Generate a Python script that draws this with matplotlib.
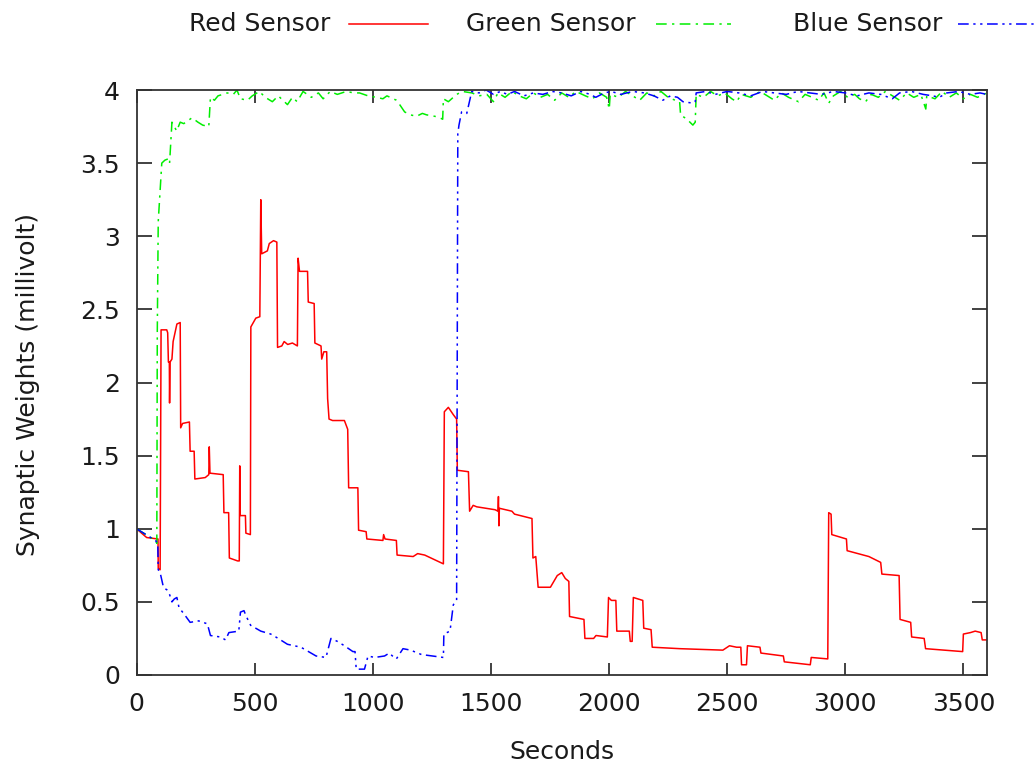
import matplotlib
matplotlib.use("Agg")
import matplotlib.pyplot as plt
from matplotlib.lines import Line2D

# ---------------- data ----------------
red_t = [0, 43, 91, 92, 100, 104, 128, 132, 135, 139, 140, 142, 150, 155, 171, 185,
         187, 195, 224, 227, 244, 247, 291, 306, 308, 311, 367, 370, 390, 393, 428, 435,
         437, 439, 461, 463, 482, 484, 505, 522, 526, 530, 554, 562, 580, 594, 597, 615,
         625, 640, 660, 681, 684, 690, 724, 727, 752, 755, 781, 784, 793, 805, 809, 815,
         830, 880, 894, 898, 937, 940, 972, 975, 1043, 1046, 1052, 1100, 1103, 1171, 1190, 1220,
         1299, 1303, 1320, 1341, 1355, 1358, 1405, 1410, 1425, 1440, 1518, 1530, 1532, 1534, 1536, 1589,
         1600, 1674, 1678, 1690, 1700, 1752, 1781, 1800, 1815, 1830, 1833, 1894, 1898, 1935, 1945, 1993,
         1998, 2010, 2029, 2033, 2086, 2090, 2098, 2103, 2143, 2147, 2178, 2183, 2300, 2482, 2510, 2540,
         2558, 2561, 2582, 2586, 2639, 2643, 2738, 2742, 2852, 2856, 2926, 2930, 2940, 2943, 3005, 3008,
         3100, 3150, 3155, 3228, 3232, 3277, 3281, 3334, 3340, 3497, 3500, 3530, 3550, 3575, 3580, 3600]
red_v = [1.00, 0.94, 0.93, 0.73, 0.72, 2.36, 2.36, 2.34, 2.14, 2.14, 1.86, 2.14, 2.16, 2.28, 2.40, 2.41,
         1.69, 1.72, 1.73, 1.53, 1.53, 1.34, 1.35, 1.37, 1.56, 1.38, 1.37, 1.11, 1.11, 0.80, 0.78, 0.78,
         1.43, 1.09, 1.09, 0.97, 0.96, 2.38, 2.44, 2.45, 3.25, 2.88, 2.90, 2.95, 2.97, 2.96, 2.24, 2.25,
         2.28, 2.26, 2.27, 2.25, 2.85, 2.76, 2.76, 2.55, 2.54, 2.27, 2.25, 2.16, 2.21, 2.21, 1.89, 1.75,
         1.74, 1.74, 1.68, 1.28, 1.28, 0.99, 0.98, 0.93, 0.92, 0.96, 0.93, 0.92, 0.82, 0.81, 0.83, 0.82,
         0.76, 1.80, 1.83, 1.78, 1.75, 1.40, 1.39, 1.12, 1.16, 1.15, 1.13, 1.12, 1.22, 1.02, 1.14, 1.12,
         1.10, 1.07, 0.80, 0.81, 0.60, 0.60, 0.68, 0.70, 0.66, 0.64, 0.40, 0.38, 0.25, 0.25, 0.27, 0.26,
         0.53, 0.51, 0.51, 0.30, 0.30, 0.23, 0.23, 0.53, 0.51, 0.32, 0.31, 0.19, 0.18, 0.17, 0.20, 0.19,
         0.19, 0.07, 0.07, 0.20, 0.19, 0.15, 0.13, 0.09, 0.07, 0.12, 0.11, 1.11, 1.10, 0.96, 0.93, 0.85,
         0.81, 0.77, 0.69, 0.68, 0.38, 0.36, 0.26, 0.25, 0.18, 0.16, 0.28, 0.29, 0.30, 0.29, 0.24, 0.24]

green_t = [0, 80, 86, 88, 92, 107, 120, 135, 140, 150, 160, 170, 185, 200, 235, 260,
           280, 306, 313, 330, 345, 384, 410, 425, 440, 470, 490, 520, 545, 575, 600, 639,
           660, 680, 705, 740, 770, 790, 820, 850, 888, 920, 944, 980, 1015, 1043, 1060, 1100,
           1114, 1135, 1160, 1185, 1210, 1228, 1263, 1284, 1296, 1299, 1320, 1355, 1380, 1420,
           1450, 1483, 1511, 1530, 1560, 1590, 1620, 1650, 1680, 1710, 1740, 1770, 1800, 1830,
           1860, 1900, 1930, 1960, 1990, 2001, 2005, 2040, 2070, 2100, 2130, 2160, 2190, 2220,
           2250, 2280, 2299, 2303, 2330, 2355, 2365, 2369, 2400, 2430, 2460, 2490, 2520, 2540,
           2560, 2600, 2640, 2670, 2700, 2730, 2760, 2802, 2830, 2860, 2887, 2910, 2930, 2950,
           2980, 3010, 3040, 3060, 3086, 3110, 3140, 3170, 3200, 3230, 3260, 3290, 3320, 3341,
           3345, 3380, 3410, 3440, 3470, 3500, 3530, 3560, 3600]
green_v = [1.00, 0.92, 0.90, 2.35, 3.10, 3.50, 3.52, 3.53, 3.50, 3.78, 3.75, 3.72, 3.78, 3.77, 3.81, 3.78,
           3.76, 3.75, 3.95, 3.93, 3.96, 3.98, 3.97, 4.00, 3.94, 3.93, 3.96, 3.99, 3.95, 3.92, 3.96, 3.90,
           3.95, 3.92, 3.99, 3.95, 3.98, 3.94, 3.99, 3.97, 3.99, 3.98, 3.98, 3.96, 3.95, 3.94, 3.96, 3.93,
           3.90, 3.85, 3.83, 3.82, 3.84, 3.83, 3.82, 3.81, 3.80, 3.94, 3.92, 3.97, 3.99, 3.98,
           3.96, 3.97, 3.92, 3.98, 3.95, 3.99, 3.96, 3.94, 3.98, 3.95, 3.97, 3.93, 3.98, 3.95,
           3.99, 3.96, 3.94, 3.98, 3.95, 3.87, 3.97, 3.95, 3.99, 3.96, 3.93, 3.98, 3.96, 3.99,
           3.95, 3.93, 3.92, 3.83, 3.80, 3.76, 3.78, 3.97, 3.95, 3.99, 3.96, 3.98, 3.94, 3.92,
           3.97, 3.95, 3.99, 3.96, 3.93, 3.98, 3.95, 3.92, 3.97, 3.95, 3.93, 3.98, 3.91, 3.96,
           3.99, 3.95, 3.97, 3.94, 3.92, 3.97, 3.95, 3.99, 3.96, 3.93, 3.98, 3.95, 3.97, 3.87,
           3.96, 3.94, 3.99, 3.95, 3.98, 3.94, 3.97, 3.95, 3.98]

blue_t = [0, 80, 90, 92, 100, 114, 130, 140, 150, 160, 171, 180, 200, 227, 263, 300,
          313, 355, 377, 391, 433, 440, 455, 462, 483, 526, 568, 600, 639, 696, 760, 802,
          823, 850, 880, 916, 925, 930, 965, 980, 1008, 1050, 1070, 1090, 1100, 1128, 1160, 1206,
          1299, 1301, 1327, 1341, 1355, 1360, 1365, 1376, 1398, 1405, 1419, 1450, 1480, 1511,
          1540, 1570, 1600, 1640, 1680, 1720, 1760, 1800, 1840, 1880, 1920, 1944, 1980, 2010,
          2050, 2100, 2150, 2190, 2228, 2260, 2290, 2313, 2355, 2365, 2369, 2410, 2450, 2500,
          2550, 2600, 2650, 2700, 2750, 2800, 2850, 2900, 2950, 3000, 3050, 3100, 3150, 3199,
          3230, 3280, 3330, 3370, 3398, 3430, 3480, 3530, 3570, 3600]
blue_v = [1.00, 0.92, 0.90, 0.72, 0.70, 0.60, 0.58, 0.55, 0.50, 0.52, 0.53, 0.46, 0.42, 0.36, 0.37, 0.35,
          0.27, 0.26, 0.24, 0.29, 0.30, 0.43, 0.44, 0.41, 0.34, 0.30, 0.28, 0.25, 0.21, 0.19, 0.13, 0.12,
          0.25, 0.23, 0.20, 0.16, 0.16, 0.04, 0.04, 0.13, 0.12, 0.13, 0.15, 0.12, 0.11, 0.18, 0.17, 0.14,
          0.12, 0.28, 0.30, 0.48, 0.51, 3.70, 3.76, 3.85, 3.84, 3.89, 3.99, 3.98, 4.00, 3.97,
          3.99, 3.97, 3.99, 3.96, 3.98, 3.97, 3.99, 3.98, 3.96, 3.99, 3.97, 3.95, 3.98, 3.99,
          3.97, 3.99, 3.98, 3.96, 3.93, 3.96, 3.95, 3.92, 3.91, 3.92, 3.98, 3.99, 3.97, 3.99,
          3.98, 3.96, 3.99, 3.98, 3.97, 3.99, 3.98, 3.97, 3.99, 3.98, 3.96, 3.98, 3.97, 3.94,
          3.98, 3.99, 3.97, 3.96, 3.95, 3.98, 3.99, 3.97, 3.98, 3.97]

series_labels = ["Red Sensor", "Green Sensor", "Blue Sensor"]
x_ticks = [0, 500, 1000, 1500, 2000, 2500, 3000, 3500]
y_ticks = [0, 0.5, 1, 1.5, 2, 2.5, 3, 3.5, 4]
y_tick_labels = ["0", "0.5", "1", "1.5", "2", "2.5", "3", "3.5", "4"]

# ---------------- styling ----------------
plt.rcParams['font.family'] = ['DejaVu Sans']
W, H = 1036, 766
fig = plt.figure(figsize=(W / 100, H / 100), dpi=100)
ax = fig.add_axes([136.5 / W, 1 - 675 / H, (987 - 136.5) / W, (675 - 90) / H])

colors = ["#ff0000", "#00ee00", "#0000ff"]
styles = ["-", (0, (7, 3.5, 1.5, 3.5)), (0, (7, 3, 1.5, 3, 1.5, 3))]
lw = 1.1

ax.plot(red_t, red_v, color=colors[0], linestyle=styles[0], lw=lw)
ax.plot(green_t, green_v, color=colors[1], linestyle=styles[1], lw=lw)
ax.plot(blue_t, blue_v, color=colors[2], linestyle=styles[2], lw=lw)

ax.set_xlim(0, 3600)
ax.set_ylim(0, 4)
ax.set_xticks(x_ticks)
ax.set_yticks(y_ticks)
ax.set_yticklabels(y_tick_labels)
txtc = "#1a1a1a"
ax.tick_params(axis='both', direction='in', top=True, right=True, colors="#333333",
               labelcolor=txtc, labelsize=18, width=1.3)
ax.tick_params(axis='x', length=9, pad=12)
ax.tick_params(axis='y', length=10.5, pad=12)
for s in ax.spines.values():
    s.set_linewidth(1.3)
    s.set_color("#333333")

fig.text(562 / W, 1 - 752 / H, "Seconds", fontsize=18, color=txtc, ha='center', va='center')
fig.text(28 / W, 1 - 385 / H, "Synaptic Weights (millivolt)", fontsize=18, color=txtc,
         ha='center', va='center', rotation=90)

# legend (gnuplot style: text then sample line)
leg_y = 1 - 24 / H
text_right = [330, 636, 942]
line_x = [(349, 428), (656, 731), (958, 1036)]
for lab, xr, (x0, x1), c, st in zip(series_labels, text_right, line_x, colors, styles):
    fig.text(xr / W, leg_y, lab, fontsize=18, color=txtc, ha='right', va='center')
    fig.add_artist(Line2D([x0 / W, x1 / W], [leg_y, leg_y], transform=fig.transFigure,
                          color=c, linestyle=st, lw=lw))

fig.savefig("out.png", dpi=100)
